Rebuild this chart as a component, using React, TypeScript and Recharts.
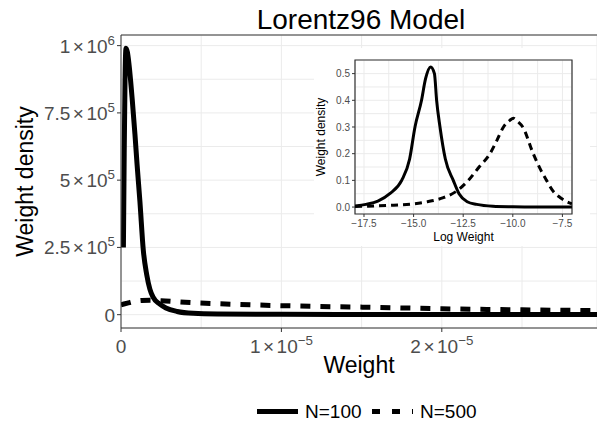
import {
  LineChart,
  Line,
  XAxis,
  YAxis,
  CartesianGrid,
  ReferenceLine,
  ReferenceArea,
} from "recharts";

const FONT = '"Liberation Sans", Arial, Helvetica, sans-serif';

// main panel: weight vs density
const n100Weight = [
  1.5e-7, 2.0e-7, 2.5e-7, 3.1e-7, 4.0e-7, 5.0e-7, 7.0e-7, 8.7e-7, 1.0e-6,
  1.18e-6, 1.39e-6, 1.6e-6, 1.8e-6, 2.0e-6, 2.4e-6, 2.8e-6, 3.5e-6, 4.5e-6,
  6e-6, 1e-5, 1.5e-5, 2e-5, 2.97e-5,
];
const n100Density = [
  250000, 600000, 870000, 990000, 975000, 930000, 800000, 670000, 560000,
  420000, 240000, 150000, 95000, 65000, 40000, 25000, 12000, 5000, 2500, 1200,
  800, 500, 300,
];
const n500Weight = [
  0, 4e-7, 8e-7, 1.3e-6, 1.8e-6, 2.5e-6, 4e-6, 6e-6, 9e-6, 1.2e-5, 1.6e-5,
  2e-5, 2.5e-5, 2.97e-5,
];
const n500Density = [
  37000, 43000, 49000, 53000, 54000, 52000, 46000, 41000, 35000, 31000, 27000,
  22000, 18000, 15000,
];

// inset: log weight vs density
const logN100Weight = [
  -17.95, -17.4, -16.8, -16.2, -15.6, -15.2, -14.93, -14.6, -14.4, -14.14,
  -13.95, -13.84, -13.67, -13.4, -13.0, -12.71, -12.3, -11.82, -11, -10, -9,
  -7.02,
];
const logN100Density = [
  0.004, 0.01, 0.022, 0.05, 0.1, 0.18, 0.3, 0.4, 0.48, 0.525, 0.5, 0.4, 0.3,
  0.18, 0.1, 0.05, 0.02, 0.01, 0.003, 0.001, 0, 0,
];
const logN500Weight = [
  -17.95, -17, -16, -15, -14.3, -13.5, -12.83, -12.24, -11.7, -11.15, -10.8,
  -10.47, -10.15, -9.97, -9.75, -9.5, -8.97, -8.6, -8.3, -7.97, -7.6, -7.28,
  -7.02,
];
const logN500Density = [
  0.002, 0.004, 0.007, 0.012, 0.02, 0.035, 0.06, 0.1, 0.15, 0.2, 0.25, 0.3,
  0.325, 0.333, 0.32, 0.3, 0.2, 0.14, 0.1, 0.06, 0.035, 0.02, 0.012,
];

const mainXTicks = [0, 1e-5, 2e-5];
const mainXLabels = ["0", "1×10^−5", "2×10^−5"];
const mainXMinor = [5e-6, 1.5e-5, 2.5e-5];
const mainYTicks = [0, 250000, 500000, 750000, 1000000];
const mainYLabels = ["0", "2.5×10^5", "5×10^5", "7.5×10^5", "1×10^6"];
const mainYMinor = [125000, 375000, 625000, 875000];

const insetXTicks = [-17.5, -15, -12.5, -10, -7.5];
const insetXLabels = ["−17.5", "−15.0", "−12.5", "−10.0", "−7.5"];
const insetXMinor = [-16.25, -13.75, -11.25, -8.75];
const insetYTicks = [0, 0.1, 0.2, 0.3, 0.4, 0.5];
const insetYLabels = ["0.0", "0.1", "0.2", "0.3", "0.4", "0.5"];
const insetYMinor = [0.05, 0.15, 0.25, 0.35, 0.45];

const mainXDomain = [0, 2.9676e-5];
const mainYDomain = [-49500, 1039500];
const insetXDomain = [-17.953, -7.017];
const insetYDomain = [-0.026, 0.551];

const zip = (xs: number[], ys: number[]) =>
  xs.map((x, i) => ({ x, y: ys[i] }));

const findIdx = (ticks: number[], v: number) =>
  ticks.findIndex((t) => Math.abs(t - v) <= Math.abs(t) * 1e-9 + 1e-12);

const MathText = ({ text, x, y, anchor, size }: any) => {
  const [base, exp] = text.split("^");
  const common = {
    x,
    y,
    textAnchor: anchor,
    fontSize: size,
    fill: "#4d4d4d",
    fontFamily: FONT,
  };
  if (!exp) return <text {...common}>{base}</text>;
  const [m] = base.split("×");
  return (
    <text {...common}>
      <tspan>{m}</tspan>
      <tspan dx={2.5}>×</tspan>
      <tspan dx={2.5}>10</tspan>
      <tspan dy={-8} fontSize={size * 0.7}>
        {exp}
      </tspan>
    </text>
  );
};

const yTick =
  (ticks: number[], labels: string[], len: number, size: number, dy: number) =>
  (props: any) => {
    const { x, y, payload } = props;
    const i = findIdx(ticks, payload.value);
    if (i < 0) return <g />;
    return (
      <g>
        <line x1={x} x2={x + len} y1={y} y2={y} stroke="#333" strokeWidth={1} />
        <MathText text={labels[i]} x={x - 2} y={y + dy} anchor="end" size={size} />
      </g>
    );
  };

const xTick =
  (ticks: number[], labels: string[], len: number, size: number, dy: number) =>
  (props: any) => {
    const { x, y, payload } = props;
    const i = findIdx(ticks, payload.value);
    if (i < 0) return <g />;
    return (
      <g>
        <line x1={x} x2={x} y1={y - len} y2={y} stroke="#333" strokeWidth={1} />
        <MathText text={labels[i]} x={x} y={y + dy} anchor="middle" size={size} />
      </g>
    );
  };

const sortNum = (a: number[]) => [...a].sort((p, q) => p - q);

export default function App() {
  const main100 = zip(n100Weight, n100Density);
  const main500 = zip(n500Weight, n500Density);
  const inset100 = zip(logN100Weight, logN100Density);
  const inset500 = zip(logN500Weight, logN500Density);

  return (
    <div
      style={{
        position: "absolute",
        left: 0,
        top: 0,
        width: 597,
        height: 428,
        background: "#fff",
        fontFamily: FONT,
      }}
    >
      <LineChart
        width={597}
        height={428}
        margin={{ top: 35, right: 0, bottom: 70, left: 0 }}
      >
        <CartesianGrid stroke="#ebebeb" strokeWidth={1} />
        <XAxis
          dataKey="x"
          type="number"
          domain={mainXDomain}
          allowDataOverflow
          ticks={sortNum([...mainXTicks, ...mainXMinor])}
          interval={0}
          tickLine={false}
          tickSize={4}
          tickMargin={0}
          height={30}
          axisLine={{ stroke: "#333", strokeWidth: 1 }}
          tick={xTick(mainXTicks, mainXLabels, 4, 19, 21)}
        />
        <YAxis
          dataKey="y"
          type="number"
          domain={mainYDomain}
          allowDataOverflow
          ticks={sortNum([...mainYTicks, ...mainYMinor])}
          interval={0}
          tickLine={false}
          tickSize={4}
          tickMargin={0}
          width={121}
          axisLine={{ stroke: "#333", strokeWidth: 1 }}
          tick={yTick(mainYTicks, mainYLabels, 4, 19, 7)}
        />
        <ReferenceLine y={mainYDomain[1]} stroke="#333" strokeWidth={1} />
        <Line
          data={main500}
          dataKey="y"
          type="monotone"
          stroke="#000"
          strokeWidth={5}
          strokeDasharray="10 10"
          dot={false}
          isAnimationActive={false}
        />
        <Line
          data={main100}
          dataKey="y"
          type="monotone"
          stroke="#000"
          strokeWidth={5}
          dot={false}
          isAnimationActive={false}
        />
      </LineChart>

      {/* inset */}
      <div
        style={{
          position: "absolute",
          left: 314,
          top: 48,
          width: 276,
          height: 198,
          background: "#fff",
        }}
      >
        <LineChart
          width={276}
          height={198}
          margin={{ top: 12, right: 18, bottom: 12, left: 0 }}
        >
          <CartesianGrid stroke="#ebebeb" strokeWidth={1} />
          <XAxis
            dataKey="x"
            type="number"
            domain={insetXDomain}
            allowDataOverflow
            ticks={sortNum([...insetXTicks, ...insetXMinor])}
            interval={0}
            tickLine={false}
            tickSize={3}
            tickMargin={0}
            height={20}
            axisLine={false}
            tick={xTick(insetXTicks, insetXLabels, 3, 10, 10)}
          />
          <YAxis
            dataKey="y"
            type="number"
            domain={insetYDomain}
            allowDataOverflow
            ticks={sortNum([...insetYTicks, ...insetYMinor])}
            interval={0}
            tickLine={false}
            tickSize={3}
            tickMargin={0}
            width={41}
            axisLine={false}
            tick={yTick(insetYTicks, insetYLabels, 3, 10, 3.6)}
          />
          <Line
            data={inset500}
            dataKey="y"
            type="monotone"
            stroke="#000"
            strokeWidth={3}
            strokeDasharray="7 5"
            dot={false}
            isAnimationActive={false}
          />
          <Line
            data={inset100}
            dataKey="y"
            type="monotone"
            stroke="#000"
            strokeWidth={3}
            dot={false}
            isAnimationActive={false}
          />
          <ReferenceArea
            x1={insetXDomain[0]}
            x2={insetXDomain[1]}
            y1={insetYDomain[0]}
            y2={insetYDomain[1]}
            fill="none"
            fillOpacity={0}
            stroke="#333"
            strokeWidth={1.2}
          />
        </LineChart>
      </div>

      {/* titles and legend */}
      <svg
        width={597}
        height={428}
        style={{ position: "absolute", left: 0, top: 0, pointerEvents: "none" }}
        fontFamily={FONT}
      >
        <text x={361} y={29} textAnchor="middle" fontSize={28} fill="#000">
          Lorentz96 Model
        </text>
        <text
          transform="translate(33,181.5) rotate(-90)"
          textAnchor="middle"
          fontSize={23}
          fill="#000"
        >
          Weight density
        </text>
        <text x={359} y={373} textAnchor="middle" fontSize={23} fill="#000">
          Weight
        </text>
        <text
          transform="translate(324.5,137) rotate(-90)"
          textAnchor="middle"
          fontSize={12}
          fill="#000"
        >
          Weight density
        </text>
        <text x={463.5} y={241} textAnchor="middle" fontSize={12} fill="#000">
          Log Weight
        </text>
        <line x1={257} x2={298} y1={411.5} y2={411.5} stroke="#000" strokeWidth={5} />
        <text x={305} y={418} fontSize={19} fill="#000">
          N=100
        </text>
        <line
          x1={372}
          x2={413}
          y1={411.5}
          y2={411.5}
          stroke="#000"
          strokeWidth={5}
          strokeDasharray="8 12"
        />
        <text x={420} y={418} fontSize={19} fill="#000">
          N=500
        </text>
      </svg>
    </div>
  );
}
